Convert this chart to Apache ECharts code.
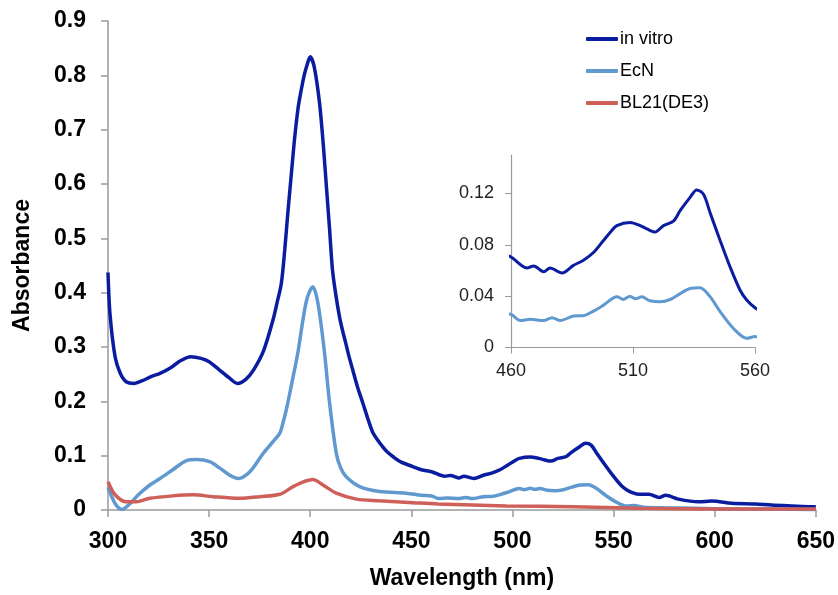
<!DOCTYPE html>
<html>
<head>
<meta charset="utf-8">
<script src="https://cdn.jsdelivr.net/npm/echarts@6/dist/echarts.min.js"></script>
<style>
  html, body { margin: 0; padding: 0; background: #fff; }
  #chart { width: 838px; height: 595px; }
</style>
</head>
<body>
<div id="chart"></div>
<script>
  // absorbance spectra, values
  var inVitroWl = [300, 301, 303.5, 306, 309, 313, 317, 321, 326, 331, 336, 341, 346, 350, 355, 360, 364, 368, 372, 377,
    381.6, 383.5, 385.7, 387.4, 389, 390.7, 392.3, 394, 395.5, 397, 398.5, 400, 402, 404.6, 406.5, 408, 409.5, 411, 412.7, 414.5,
    416, 417.5, 419, 421, 423.5, 426, 428.5, 431, 433.5, 435.7, 438, 441, 445, 450.7, 455,
    460, 466.5, 469.3, 473.4, 476, 480.9, 485.6, 489.7, 493.8, 497.9, 500.7, 503.4, 508.8, 513, 515.7, 519, 522.5, 526.6,
    529.3, 533.4, 536.1, 538.9, 541.6, 545.7, 549.8, 553.9, 556.6, 560, 562.6, 567.5, 572.5, 575.8, 582, 592, 598.6,
    608.5, 620, 628, 638, 648, 650];
  var inVitroAbs = [0.437, 0.36, 0.282, 0.252, 0.236, 0.233, 0.238, 0.245, 0.252, 0.262, 0.275, 0.282, 0.279, 0.273, 0.258, 0.243, 0.233, 0.240, 0.258, 0.294,
    0.35, 0.38, 0.417, 0.479, 0.55, 0.62, 0.685, 0.74, 0.772, 0.80, 0.82, 0.834, 0.815, 0.749, 0.67, 0.595, 0.52, 0.442, 0.395, 0.355,
    0.33, 0.308, 0.285, 0.258, 0.225, 0.197, 0.168, 0.142, 0.128, 0.117, 0.107, 0.098, 0.088, 0.080, 0.074,
    0.0705, 0.062, 0.0635, 0.059, 0.062, 0.058, 0.064, 0.068, 0.074, 0.0834, 0.0898, 0.095, 0.0975, 0.095, 0.0924, 0.090, 0.095, 0.0985,
    0.1066, 0.117, 0.1228, 0.1195, 0.105, 0.0834, 0.0627, 0.0446, 0.037, 0.031, 0.029, 0.029, 0.023, 0.027, 0.020, 0.015, 0.0165,
    0.0123, 0.011, 0.009, 0.0074, 0.006, 0.006];

  var ecnWl = [300, 303.5, 307, 311, 315, 320.7, 325.7, 332, 338.8, 343.8, 350.3, 355.3, 360.2, 364.3, 370, 376.7, 381.6, 384.9, 386.5,
    388.5, 390.7, 393.9, 396.4, 398.5, 401.3, 403, 404.6, 407.1, 409.6, 412.9, 415, 417.8, 424.4, 434.3, 447.4, 455, 460, 463.8, 467.9, 473.4,
    476.8, 480.2, 485.6, 489.7, 493.8, 497.9, 503.4, 506, 508.8, 511, 513.6, 517, 521.1, 525.2, 529.3, 533.4, 537.5, 541.6, 545.7, 551.1,
    556.6, 560, 565, 575, 590, 610, 630, 650];
  var ecnAbs = [0.042, 0.012, 0.001, 0.012, 0.028, 0.046, 0.058, 0.074, 0.091, 0.093, 0.089, 0.077, 0.064, 0.058, 0.070, 0.104, 0.126, 0.141, 0.16,
    0.19, 0.23, 0.29, 0.35, 0.39, 0.411, 0.395, 0.362, 0.288, 0.196, 0.104, 0.078, 0.061, 0.043, 0.034, 0.031, 0.027, 0.0258, 0.021, 0.022, 0.021,
    0.0232, 0.021, 0.0245, 0.0248, 0.0284, 0.033, 0.0395, 0.0375, 0.040, 0.038, 0.0395, 0.0364, 0.0356, 0.0374, 0.042, 0.046, 0.0465, 0.0395, 0.028, 0.015,
    0.0072, 0.0085, 0.005, 0.004, 0.003, 0.002, 0.002, 0.001];

  var bl21Wl = [300, 303.5, 309, 314, 320.7, 332, 342, 352, 365, 375, 385, 391.5, 396, 401.3, 406.3, 412.9, 422.8, 434, 450.7, 463,
    497, 530, 562, 600, 650];
  var bl21Abs = [0.052, 0.028, 0.015, 0.015, 0.0215, 0.026, 0.028, 0.0245, 0.0215, 0.0245, 0.029, 0.043, 0.051, 0.056, 0.046, 0.031, 0.020, 0.017, 0.0135, 0.011,
    0.0074, 0.006, 0.003, 0.002, 0.002];

  var seriesNames = ['in vitro', 'EcN', 'BL21(DE3)'];
  var insetXTicks = [460, 510, 560];
  var insetYTicks = [0, 0.04, 0.08, 0.12];

  var colors = ['#0a1c9f', '#5f99d0', '#cf5f59'];

  function pairs(xs, ys) {
    return xs.map(function (x, i) { return [x, ys[i]]; });
  }

  var chart = echarts.init(document.getElementById('chart'));

  var axisGray = '#9a9a9a';
  var boldLabel = { fontFamily: 'Liberation Sans, Arial, sans-serif', fontWeight: 'bold', fontSize: 23, color: '#000' };
  var plainLabel = { fontFamily: 'Liberation Sans, Arial, sans-serif', fontSize: 18, color: '#222' };

  function lineSeries(name, data, color, axisIdx, width) {
    return {
      name: name,
      type: 'line',
      xAxisIndex: axisIdx,
      yAxisIndex: axisIdx,
      data: data,
      showSymbol: false,
      smooth: 0.3,
      clip: true,
      lineStyle: { color: color, width: width },
      itemStyle: { color: color },
      animation: false
    };
  }

  chart.setOption({
    color: colors,
    animation: false,
    legend: {
      data: seriesNames,
      orient: 'vertical',
      left: 581,
      top: 25,
      itemWidth: 32,
      itemHeight: 4,
      itemGap: 14,
      icon: 'roundRect',
      textStyle: { fontFamily: 'Liberation Sans, Arial, sans-serif', fontSize: 18, color: '#000', padding: [0, 0, 0, -3] }
    },
    grid: [
      { left: 108, right: 22, top: 21, bottom: 85 },
      { left: 511, right: 83, top: 155, bottom: 247.5 }
    ],
    xAxis: [
      {
        type: 'value', gridIndex: 0, min: 300, max: 650, interval: 50,
        name: 'Wavelength (nm)', nameLocation: 'middle', nameGap: 57,
        nameTextStyle: { fontFamily: 'Liberation Sans, Arial, sans-serif', fontWeight: 'bold', fontSize: 23, color: '#000' },
        axisLine: { lineStyle: { color: axisGray, width: 1.5 } },
        axisTick: { show: true, length: 7, lineStyle: { color: axisGray, width: 1.5 } },
        axisLabel: Object.assign({ margin: 20 }, boldLabel),
        splitLine: { show: false }
      },
      {
        type: 'value', gridIndex: 1, min: 460, max: 560, interval: 50,
        axisLine: { lineStyle: { color: axisGray, width: 1.2 } },
        axisTick: { show: true, length: 6, lineStyle: { color: axisGray }, customValues: insetXTicks },
        axisLabel: Object.assign({ margin: 15, customValues: insetXTicks }, plainLabel),
        splitLine: { show: false }
      }
    ],
    yAxis: [
      {
        type: 'value', gridIndex: 0, min: 0, max: 0.9, interval: 0.1,
        name: 'Absorbance', nameLocation: 'middle', nameGap: 74,
        nameTextStyle: { fontFamily: 'Liberation Sans, Arial, sans-serif', fontWeight: 'bold', fontSize: 23, color: '#000' },
        axisLine: { show: true, lineStyle: { color: axisGray, width: 1.5 } },
        axisTick: { show: true, length: 7, lineStyle: { color: axisGray, width: 1.5 } },
        axisLabel: Object.assign({ margin: 22 }, boldLabel),
        splitLine: { show: false }
      },
      {
        type: 'value', gridIndex: 1, min: 0, max: 0.15,
        axisLine: { show: true, lineStyle: { color: axisGray, width: 1.2 } },
        axisTick: { show: true, length: 6, lineStyle: { color: axisGray }, customValues: insetYTicks },
        axisLabel: Object.assign({ margin: 17, customValues: insetYTicks }, plainLabel),
        splitLine: { show: false }
      }
    ],
    series: [
      lineSeries(seriesNames[0], pairs(inVitroWl, inVitroAbs), colors[0], 0, 3.5),
      lineSeries(seriesNames[1], pairs(ecnWl, ecnAbs), colors[1], 0, 3.5),
      lineSeries(seriesNames[2], pairs(bl21Wl, bl21Abs), colors[2], 0, 3.5),
      lineSeries(seriesNames[0], pairs(inVitroWl, inVitroAbs), colors[0], 1, 3),
      lineSeries(seriesNames[1], pairs(ecnWl, ecnAbs), colors[1], 1, 3)
    ]
  });
</script>
</body>
</html>
